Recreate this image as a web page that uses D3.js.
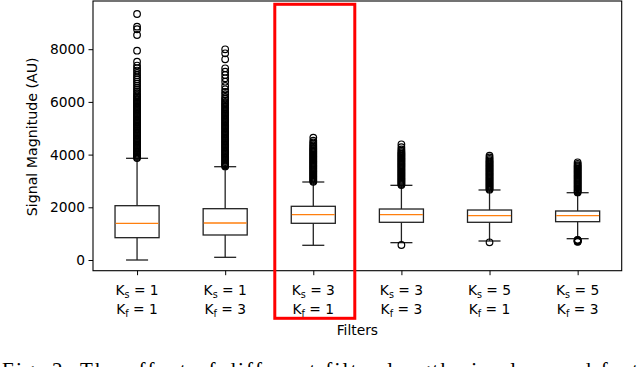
<!DOCTYPE html>
<html>
<head>
<meta charset="utf-8">
<script src="https://cdn.jsdelivr.net/npm/d3@7"></script>
<style>
  body { margin: 0; background: #fff; }
  svg { display: block; }
</style>
</head>
<body>
<svg id="chart" width="640" height="367"></svg>
<script>
// ---- data ----
var ksValues = [1, 1, 3, 3, 5, 5];
var kfValues = [1, 3, 1, 3, 1, 3];
var q1Values      = [847, 949, 1393, 1431, 1431, 1454];
var medianValues  = [1393, 1404, 1719, 1719, 1681, 1681];
var q3Values      = [2061, 1947, 2038, 1935, 1897, 1860];
var whiskerLow    = [0, 102, 558, 658, 721, 809];
var whiskerHigh   = [3859, 3541, 2960, 2834, 2657, 2554];
var yTicks = [0, 2000, 4000, 6000, 8000];

var outliers1 = [3870,3910,3950,3995,4040,4085,4130,4175,4220,4265,4310,4355,4400,4445,4490,4535,4580,4625,4670,4715,4760,4805,4850,4895,4940,4985,5030,5075,5120,5165,5210,5255,5300,5345,5390,5435,5480,5525,5570,5615,5660,5705,5750,5795,5840,5885,5930,5975,6020,6065,6110,6160,6210,6260,6320,6390,6460,6530,6610,6690,6770,6850,6930,7010,7100,7190,7280,7380,7526,7943,8539,8757,8855,9336];
var outliers2 = [3550,3590,3630,3675,3720,3765,3810,3855,3900,3945,3990,4035,4080,4125,4170,4215,4260,4305,4350,4395,4440,4485,4530,4575,4620,4665,4710,4755,4800,4845,4890,4935,4980,5025,5070,5115,5160,5205,5250,5295,5340,5385,5430,5475,5520,5565,5610,5655,5700,5750,5800,5850,5900,5950,6000,6060,6120,6190,6290,6380,6478,6603,6767,6896,7021,7146,7275,7617,7844,7996];
var outliers3 = [2970,3010,3050,3090,3130,3170,3210,3250,3290,3330,3370,3410,3450,3490,3530,3570,3610,3650,3690,3730,3770,3810,3850,3890,3930,3970,4010,4050,4090,4130,4170,4210,4250,4300,4350,4400,4460,4530,4645];
var outliers4 = [569,2845,2885,2925,2965,3005,3045,3085,3125,3165,3205,3245,3285,3325,3365,3405,3445,3485,3525,3565,3605,3645,3685,3725,3765,3805,3845,3885,3925,3965,4005,4045,4090,4140,4200,4280,4390];
var outliers5 = [671,2668,2705,2745,2785,2825,2865,2905,2945,2985,3025,3065,3105,3145,3185,3225,3265,3305,3345,3385,3425,3465,3505,3545,3585,3625,3665,3705,3745,3790,3840,3890,3962];
var outliers6 = [690,705,720,735,750,765,2565,2600,2640,2680,2720,2760,2800,2840,2880,2920,2960,3000,3040,3080,3120,3160,3200,3240,3280,3320,3360,3400,3440,3480,3520,3560,3600,3650,3708];
var outlierLists = [outliers1, outliers2, outliers3, outliers4, outliers5, outliers6];

var highlightIndex = 2;   // the boxed K_s = 3 / K_f = 1 column
var captionText = 'Fig. 2: The effect of different filter lengths in slow and fast';

// ---- layout ----
var plotLeft = 93, plotRight = 621.7, plotTop = 1, plotBottom = 270.7;
var labelFont = '"DejaVu Sans", sans-serif';
var svg = d3.select('#chart');

var x = d3.scaleLinear().domain([0.5, 6.5]).range([plotLeft, plotRight]);
var y = d3.scaleLinear().domain([-406, 9829]).range([plotBottom, plotTop]);

var boxes = ksValues.map(function(ks, i) {
  return { pos: i + 1, ks: ks, kf: kfValues[i], q1: q1Values[i], med: medianValues[i],
           q3: q3Values[i], lo: whiskerLow[i], hi: whiskerHigh[i], out: outlierLists[i] };
});

var boxW = (x(1.25) - x(0.75));
var capW = boxW / 2;
var lineCol = '#222';
var lineW = 1.3;

// axes
var yAxis = svg.append('g')
  .attr('transform', 'translate(' + plotLeft + ',0)')
  .call(d3.axisLeft(y).tickValues(yTicks).tickSize(4.5).tickPadding(3.5).tickFormat(d3.format('d')))
  .attr('font-family', labelFont)
  .attr('font-size', 13.8);
yAxis.select('.domain').remove();
yAxis.selectAll('.tick line').attr('stroke', '#000').attr('stroke-width', 1);
yAxis.selectAll('.tick text').attr('fill', '#000');

var xAxis = svg.append('g')
  .attr('transform', 'translate(0,' + plotBottom + ')')
  .call(d3.axisBottom(x).tickValues(boxes.map(function(d) { return d.pos })).tickSize(4.5).tickFormat(''));
xAxis.select('.domain').remove();
xAxis.selectAll('.tick line').attr('stroke', '#000').attr('stroke-width', 1);

// boxes
var g = svg.selectAll('.box')
  .data(boxes)
  .enter()
  .append('g')
  .attr('class', 'box');

g.append('line')
  .attr('x1', function(d) { return x(d.pos) }).attr('x2', function(d) { return x(d.pos) })
  .attr('y1', function(d) { return y(d.lo) }).attr('y2', function(d) { return y(d.q1) })
  .attr('stroke', lineCol).attr('stroke-width', lineW);

g.append('line')
  .attr('x1', function(d) { return x(d.pos) }).attr('x2', function(d) { return x(d.pos) })
  .attr('y1', function(d) { return y(d.q3) }).attr('y2', function(d) { return y(d.hi) })
  .attr('stroke', lineCol).attr('stroke-width', lineW);

['lo', 'hi'].forEach(function(k) {
  g.append('line')
    .attr('x1', function(d) { return x(d.pos) - capW / 2 }).attr('x2', function(d) { return x(d.pos) + capW / 2 })
    .attr('y1', function(d) { return y(d[k]) }).attr('y2', function(d) { return y(d[k]) })
    .attr('stroke', lineCol).attr('stroke-width', lineW);
});

g.append('rect')
  .attr('x', function(d) { return x(d.pos) - boxW / 2 })
  .attr('y', function(d) { return y(d.q3) })
  .attr('width', boxW)
  .attr('height', function(d) { return y(d.q1) - y(d.q3) })
  .attr('fill', 'none')
  .attr('stroke', lineCol).attr('stroke-width', lineW);

g.append('line')
  .attr('x1', function(d) { return x(d.pos) - boxW / 2 + 0.6 }).attr('x2', function(d) { return x(d.pos) + boxW / 2 - 0.6 })
  .attr('y1', function(d) { return y(d.med) }).attr('y2', function(d) { return y(d.med) })
  .attr('stroke', '#ff7f0e').attr('stroke-width', 1.3);

g.selectAll('circle')
  .data(function(d) { return d.out.map(function(v) { return { pos: d.pos, v: v } }) })
  .enter()
  .append('circle')
  .attr('cx', function(d) { return x(d.pos) })
  .attr('cy', function(d) { return y(d.v) })
  .attr('r', 3.3)
  .attr('fill', 'none')
  .attr('stroke', '#000')
  .attr('stroke-width', 1.2);

// frame
svg.append('rect')
  .attr('x', plotLeft).attr('y', plotTop)
  .attr('width', plotRight - plotLeft).attr('height', plotBottom - plotTop)
  .attr('fill', 'none').attr('stroke', '#000').attr('stroke-width', 1.1);

// x tick labels (K_s / K_f)
function addKLabel(sel, sub, val, baseY) {
  var t = sel.append('text')
    .attr('x', function(d) { return x(d.pos) })
    .attr('y', baseY)
    .attr('text-anchor', 'middle')
    .style('font-family', labelFont)
    .style('font-size', '13.8px');
  t.append('tspan').text('K');
  t.append('tspan').attr('dy', 3).style('font-size', '9.6px').text(sub);
  t.append('tspan').attr('dy', -3).text(function(d) { return ' = ' + d[val] });
}
addKLabel(g, 's', 'ks', 294.5);
addKLabel(g, 'f', 'kf', 314);

svg.append('text')
  .attr('x', (plotLeft + plotRight) / 2)
  .attr('y', 335)
  .attr('text-anchor', 'middle')
  .style('font-family', labelFont)
  .style('font-size', '13.8px')
  .text('Filters');

svg.append('text')
  .attr('transform', 'translate(37,' + ((plotTop + plotBottom) / 2 + 1) + ') rotate(-90)')
  .attr('text-anchor', 'middle')
  .style('font-family', labelFont)
  .style('font-size', '14.2px')
  .text('Signal Magnitude (AU)');

// highlight rectangle around the chosen filter pair
svg.append('rect')
  .attr('x', x(highlightIndex + 1) - 38.5)
  .attr('y', 4.3)
  .attr('width', 80)
  .attr('height', 314)
  .attr('fill', 'none')
  .attr('stroke', '#ff0000')
  .attr('stroke-width', 3);

// caption (cut off by the page bottom)
svg.append('text')
  .attr('x', 2)
  .attr('y', 377)
  .attr('textLength', 636)
  .attr('lengthAdjust', 'spacing')
  .style('font-family', '"Liberation Serif", serif')
  .style('font-size', '21px')
  .text(captionText);
</script>
</body>
</html>
